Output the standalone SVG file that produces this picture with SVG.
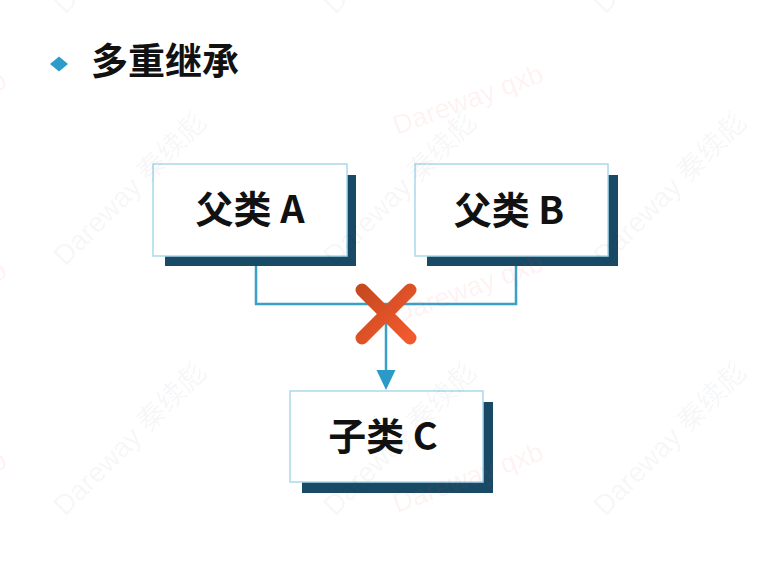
<svg xmlns="http://www.w3.org/2000/svg" width="775" height="581" viewBox="0 0 775 581">
<defs>
<style>
.box{fill:#ffffff;stroke:#a9d9ec;stroke-width:1.5}
.shadow{fill:#184a66}
.lbl{font-family:"Noto Sans CJK SC","Noto Sans",sans-serif;font-weight:bold;font-size:38px;fill:#111111;text-anchor:middle}
.title{font-family:"Noto Sans CJK SC","Noto Sans",sans-serif;font-weight:bold;font-size:37px;fill:#111111}
.conn{fill:none;stroke:#3aa0c8;stroke-width:2.5}
.wmg{font-family:"Liberation Sans","Noto Sans CJK SC",sans-serif;font-size:28px;fill:#000000;fill-opacity:0.055}
.wmp{font-family:"Liberation Sans",sans-serif;font-size:27px;fill:#ff3030;fill-opacity:0.08}
</style>
<linearGradient id="xg" x1="0" y1="0" x2="1" y2="1">
<stop offset="0" stop-color="#c9491f"/>
<stop offset="1" stop-color="#f25a2e"/>
</linearGradient>
</defs>
<rect width="775" height="581" fill="#ffffff"/>

<g id="title">
<path d="M59,56.5 L68,64 L59,71.5 L50,64 Z" fill="#2e9ccb"/>
<text class="title" x="91" y="74.5">多重继承</text>
</g>

<g id="connectors">
<polyline class="conn" points="256,266 256,304 516,304 516,266"/>
<line class="conn" x1="386" y1="304" x2="386" y2="372"/>
<path d="M376.5,370 L395.5,370 L386,390 Z" fill="#2a9ac8"/>
<g id="cross" stroke="url(#xg)" stroke-width="13" stroke-linecap="round">
<line x1="362" y1="290" x2="410" y2="338"/>
<line x1="410" y1="290" x2="362" y2="338"/>
</g>
</g>

<g id="nodeA">
<rect class="shadow" x="165" y="175" width="191" height="91"/>
<rect class="box" x="153" y="164" width="194" height="92"/>
<text class="lbl" x="250" y="223">父类 A</text>
</g>

<g id="nodeB">
<rect class="shadow" x="427" y="175" width="191" height="91"/>
<rect class="box" x="415" y="164" width="193" height="92"/>
<text class="lbl" x="509" y="224">父类 B</text>
</g>

<g id="nodeC">
<rect class="shadow" x="302" y="402" width="191" height="91"/>
<rect class="box" x="290" y="391" width="193" height="91"/>
<text class="lbl" x="383" y="450">子类 C</text>
</g>

<g id="watermarks">
<text class="wmg" transform="translate(65,15) rotate(-45)">Dareway 秦续彪</text>
<text class="wmg" transform="translate(335,15) rotate(-45)">Dareway 秦续彪</text>
<text class="wmg" transform="translate(605,15) rotate(-45)">Dareway 秦续彪</text>
<text class="wmg" transform="translate(65,267) rotate(-45)">Dareway 秦续彪</text>
<text class="wmg" transform="translate(335,267) rotate(-45)">Dareway 秦续彪</text>
<text class="wmg" transform="translate(605,267) rotate(-45)">Dareway 秦续彪</text>
<text class="wmg" transform="translate(65,517) rotate(-45)">Dareway 秦续彪</text>
<text class="wmg" transform="translate(335,517) rotate(-45)">Dareway 秦续彪</text>
<text class="wmg" transform="translate(605,517) rotate(-45)">Dareway 秦续彪</text>
<text class="wmp" transform="translate(-140,141) rotate(-20)">Dareway qxb</text>
<text class="wmp" transform="translate(-140,331) rotate(-20)">Dareway qxb</text>
<text class="wmp" transform="translate(-140,521) rotate(-20)">Dareway qxb</text>
<text class="wmp" transform="translate(397,135) rotate(-20)">Dareway qxb</text>
<text class="wmp" transform="translate(397,324) rotate(-20)">Dareway qxb</text>
<text class="wmp" transform="translate(397,513) rotate(-20)">Dareway qxb</text>
</g>
</svg>
